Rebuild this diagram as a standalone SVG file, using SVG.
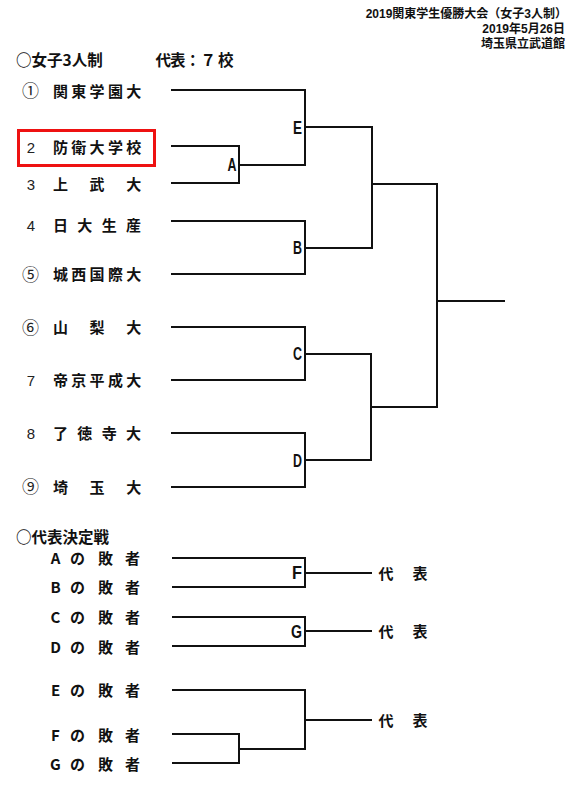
<svg xmlns="http://www.w3.org/2000/svg" width="571" height="787" viewBox="0 0 571 787">
<style>
.jp{font-family:"Noto Sans CJK JP","Liberation Sans",sans-serif;font-weight:bold;fill:#111}
.hd{font-family:"Liberation Sans","Noto Sans CJK JP",sans-serif;font-weight:bold;fill:#111;font-size:12px;text-anchor:end}
.ttl{font-size:15.5px}
.nm{font-size:15px}
.num{font-family:"Liberation Sans",Arial,sans-serif;font-size:15px;fill:#222;text-anchor:middle}
.cn{font-family:"Noto Sans CJK JP",sans-serif;font-size:17px;fill:#222;text-anchor:middle}
.ls{font-size:15px;text-anchor:middle}
.lb{font-family:"Liberation Sans",Arial,sans-serif;font-weight:bold;font-size:19px;fill:#111}
.ln{fill:none;stroke:#111;stroke-width:2;stroke-linecap:square}
</style>
<rect width="571" height="787" fill="#fff"/>
<g id="header">
<text class="hd" x="567" y="18">2019関東学生優勝大会（女子3人制）</text>
<text class="hd" x="565" y="32.5">2019年5月26日</text>
<text class="hd" x="565" y="47.5">埼玉県立武道館</text>
</g>
<g id="title">
<text class="jp ttl" x="16" y="66">○女子3人制</text>
<text class="jp ttl" x="155.5 170 185 200.5 218" y="66">代表：７校</text>
</g>
<g id="highlight">
<rect x="18.5" y="130.5" width="136" height="35" fill="none" stroke="#ee1111" stroke-width="3"/>
</g>
<g id="team1"><text class="cn" x="30.5" y="97">①</text><text class="jp nm" x="53 71.3 89.6 107.9 126.2" y="96.5">関東学園大</text></g>
<g id="team2"><text class="num" x="31" y="152.5">2</text><text class="jp nm" x="53 71.3 89.6 107.9 126.2" y="152.5">防衛大学校</text></g>
<g id="team3"><text class="num" x="31" y="189.5">3</text><text class="jp nm" x="53 89.6 126.2" y="189.5">上武大</text></g>
<g id="team4"><text class="num" x="31" y="230.5">4</text><text class="jp nm" x="53 77.3 101.7 126" y="230.5">日大生産</text></g>
<g id="team5"><text class="cn" x="30.5" y="280.5">⑤</text><text class="jp nm" x="53 71.3 89.6 107.9 126.2" y="280">城西国際大</text></g>
<g id="team6"><text class="cn" x="30.5" y="333.5">⑥</text><text class="jp nm" x="53 89.6 126.2" y="333">山梨大</text></g>
<g id="team7"><text class="num" x="31" y="385.5">7</text><text class="jp nm" x="53 71.3 89.6 107.9 126.2" y="386">帝京平成大</text></g>
<g id="team8"><text class="num" x="31" y="438.5">8</text><text class="jp nm" x="53 77.3 101.7 126" y="438.5">了徳寺大</text></g>
<g id="team9"><text class="cn" x="30.5" y="493">⑨</text><text class="jp nm" x="53 89.6 126.2" y="492.5">埼玉大</text></g>
<g id="section2">
<text class="jp ttl" x="16" y="543">○代表決定戦</text>
</g>
<g id="loserA"><text class="jp ls" x="55.5 77.5 105.5 132.5" y="563.5">Aの敗者</text></g>
<g id="loserB"><text class="jp ls" x="55.5 77.5 105.5 132.5" y="592.5">Bの敗者</text></g>
<g id="loserC"><text class="jp ls" x="55.5 77.5 105.5 132.5" y="622.5">Cの敗者</text></g>
<g id="loserD"><text class="jp ls" x="55.5 77.5 105.5 132.5" y="652.5">Dの敗者</text></g>
<g id="loserE"><text class="jp ls" x="55.5 77.5 105.5 132.5" y="695.5">Eの敗者</text></g>
<g id="loserF"><text class="jp ls" x="55.5 77.5 105.5 132.5" y="740.5">Fの敗者</text></g>
<g id="loserG"><text class="jp ls" x="55.5 77.5 105.5 132.5" y="769.5">Gの敗者</text></g>
<g id="rep1"><text class="jp ls" x="386 420" y="578.5">代表</text></g>
<g id="rep2"><text class="jp ls" x="386 420" y="636.5">代表</text></g>
<g id="rep3"><text class="jp ls" x="386 420" y="725.5">代表</text></g>
<g id="matchA"><text class="lb" x="227.5" y="171" textLength="9" lengthAdjust="spacingAndGlyphs">A</text></g>
<g id="matchE"><text class="lb" x="293" y="134" textLength="9" lengthAdjust="spacingAndGlyphs">E</text></g>
<g id="matchB"><text class="lb" x="293" y="254" textLength="9" lengthAdjust="spacingAndGlyphs">B</text></g>
<g id="matchC"><text class="lb" x="293" y="360" textLength="9" lengthAdjust="spacingAndGlyphs">C</text></g>
<g id="matchD"><text class="lb" x="293" y="467" textLength="9" lengthAdjust="spacingAndGlyphs">D</text></g>
<g id="matchF"><text class="lb" x="292" y="579" textLength="10" lengthAdjust="spacingAndGlyphs">F</text></g>
<g id="matchG"><text class="lb" x="291" y="638" textLength="11" lengthAdjust="spacingAndGlyphs">G</text></g>
<g id="connectors" class="ln">
<path d="M172 90 H305 V165"/>
<path d="M172 146 H239 V183 H172 M239 165 H305"/>
<path d="M305 127 H372"/>
<path d="M172 221 H305 V274 H172 M305 248 H372"/>
<path d="M372 127 V248 M372 184 H437"/>
<path d="M172 327 H305 V380 H172 M305 354 H371"/>
<path d="M172 433 H305 V487 H172 M305 460 H371"/>
<path d="M371 354 V460 M371 407 H437"/>
<path d="M437 184 V407 M437 301 H504"/>
<path d="M173 558 H305 V587 H173 M305 573 H371"/>
<path d="M173 617 H305 V646 H173 M305 631 H371"/>
<path d="M173 690 H305 V749"/>
<path d="M173 734 H239 V763 H173 M239 749 H305"/>
<path d="M305 720 H371"/>
</g>
</svg>
